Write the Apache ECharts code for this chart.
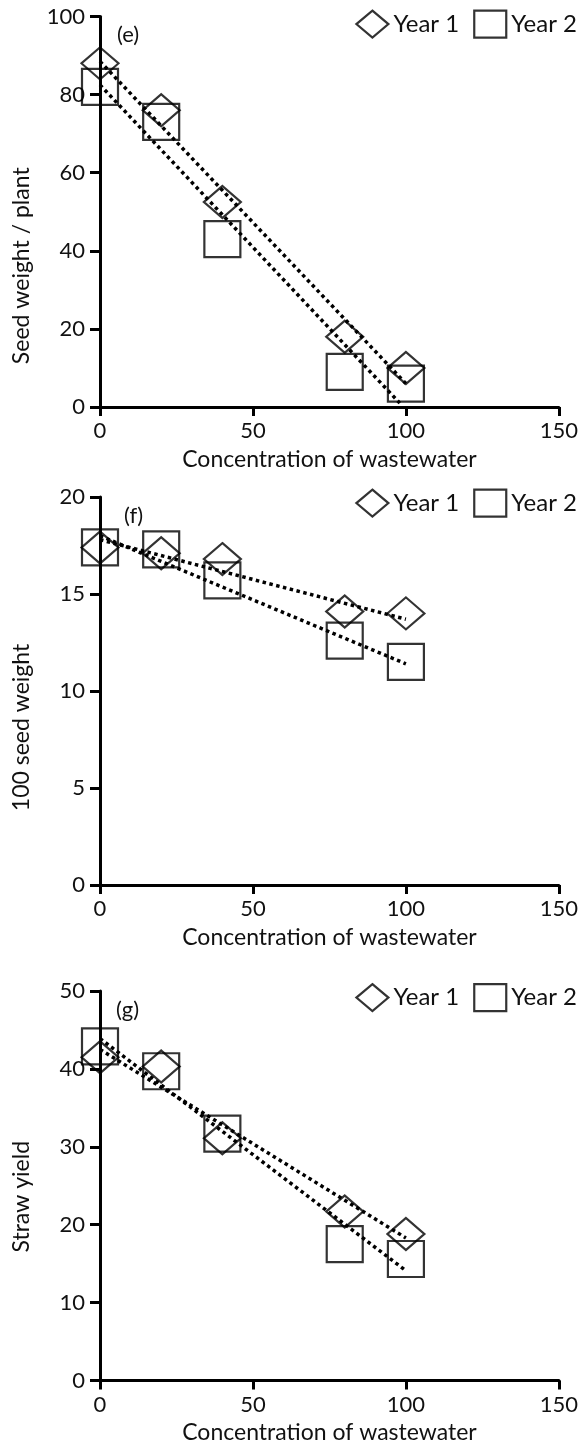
<!DOCTYPE html>
<html>
<head>
<meta charset="utf-8">
<script src="https://cdn.jsdelivr.net/npm/echarts@6/dist/echarts.min.js"></script>
<style>
  html, body { margin: 0; padding: 0; background: #fff; }
  #chart { width: 581px; height: 1450px; }
</style>
</head>
<body>
<div id="chart"></div>
<script>
// ---- data ----
const concentration = [0, 20, 40, 80, 100];

const seedWeightYear1 = [88, 76, 52.5, 18, 10];
const seedWeightYear2 = [82, 73, 43, 9, 6];
const seedWeightTrend1 = [[0, 88.5], [100, 6]];
const seedWeightTrend2 = [[0, 82.5], [98, 1]];

const hundredSeedYear1 = [17.4, 17.1, 16.8, 14.1, 14.0];
const hundredSeedYear2 = [17.4, 17.3, 15.7, 12.6, 11.5];
const hundredSeedTrend1 = [[0, 17.8], [100, 13.7]];
const hundredSeedTrend2 = [[0, 18.0], [100, 11.4]];

const strawYear1 = [41.5, 40.3, 31.1, 21.7, 18.8];
const strawYear2 = [42.9, 39.7, 31.7, 17.5, 15.6];
const strawTrend1 = [[0, 42.5], [100, 18.3]];
const strawTrend2 = [[0, 43.9], [100, 14.1]];

const xTicks = [0, 50, 100, 150];
const panelLetters = ['(e)', '(f)', '(g)'];
const yNames = ['Seed weight / plant', '100 seed weight', 'Straw yield'];
const xName = 'Concentration of wastewater';
const yMax = [100, 20, 50];
const yInterval = [20, 5, 10];
const legendNames = ['Year 1', 'Year 2'];

// ---- layout ----
const FONT = 'Lato, "Noto Sans", sans-serif';
const TXT = '#111';
const grids = [
  { left: 100, width: 462, top: 16.5, height: 390.5 },
  { left: 100, width: 462, top: 497, height: 388 },
  { left: 100, width: 462, top: 991, height: 389.5 }
];
const yNameShift = [108, 73, 22];
const legendTops = [9.5, 488.5, 983];
const letterPos = [[117, 24], [124, 505], [116, 999]];

function pts(ys) { return concentration.map((x, i) => [x, ys[i]]); }

const panels = [
  [seedWeightYear1, seedWeightYear2, seedWeightTrend1, seedWeightTrend2],
  [hundredSeedYear1, hundredSeedYear2, hundredSeedTrend1, hundredSeedTrend2],
  [strawYear1, strawYear2, strawTrend1, strawTrend2]
];

const xAxis = [], yAxis = [], series = [], legend = [], title = [];
panels.forEach((p, i) => {
  xAxis.push({
    gridIndex: i, type: 'value', min: 0, max: 150, interval: 50,
    name: xName, nameLocation: 'middle', nameGap: 41,
    nameTextStyle: { fontFamily: FONT, fontSize: 23, color: TXT },
    axisLine: { show: true, onZero: false, lineStyle: { color: '#000', width: 3 } },
    axisTick: { show: true, length: 9, lineStyle: { color: '#000', width: 3 } },
    axisLabel: { margin: 13, fontFamily: FONT, fontSize: 22, color: TXT },
    splitLine: { show: false }
  });
  yAxis.push({
    gridIndex: i, type: 'value', min: 0, max: yMax[i], interval: yInterval[i],
    name: yNames[i], nameLocation: 'middle', nameGap: 67,
    nameTextStyle: { fontFamily: FONT, fontSize: 23, color: TXT, padding: [0, yNameShift[i], 0, 0] },
    axisLine: { show: true, onZero: false, lineStyle: { color: '#000', width: 3 } },
    axisTick: { show: true, length: 10, lineStyle: { color: '#000', width: 3 } },
    axisLabel: { margin: 15, fontFamily: FONT, fontSize: 22, color: TXT },
    splitLine: { show: false }
  });
  const trendStyle = { color: '#000', width: 3.5, type: [3.5, 3.5], cap: 'butt' };
  series.push({
    type: 'line', xAxisIndex: i, yAxisIndex: i, data: p[2], symbol: 'none',
    lineStyle: trendStyle, silent: true, z: 3
  });
  series.push({
    type: 'line', xAxisIndex: i, yAxisIndex: i, data: p[3], symbol: 'none',
    lineStyle: trendStyle, silent: true, z: 3
  });
  series.push({
    name: legendNames[0], type: 'scatter', xAxisIndex: i, yAxisIndex: i,
    data: pts(p[0]), symbol: 'diamond', symbolSize: [37, 32],
    itemStyle: { color: 'rgba(0,0,0,0)', borderColor: '#000', borderWidth: 2.2 }, z: 4
  });
  series.push({
    name: legendNames[1], type: 'scatter', xAxisIndex: i, yAxisIndex: i,
    data: pts(p[1]), symbol: 'rect', symbolSize: [36, 36],
    itemStyle: { color: 'rgba(0,0,0,0)', borderColor: '#000', borderWidth: 2.2 }, z: 4
  });
  legend.push({
    right: 4, top: legendTops[i], padding: 0, itemGap: 14,
    itemWidth: 32, itemHeight: 27, selectedMode: false,
    data: [{ name: legendNames[0], icon: 'diamond' }, { name: legendNames[1], icon: 'rect' }],
    itemStyle: { color: 'rgba(0,0,0,0)', borderColor: '#000', borderWidth: 2.2 },
    textStyle: { fontFamily: FONT, fontSize: 24, color: TXT }
  });
  title.push({
    text: panelLetters[i], left: letterPos[i][0], top: letterPos[i][1], padding: 0,
    textStyle: { fontFamily: FONT, fontSize: 22, fontWeight: 'normal', color: TXT }
  });
});

const chart = echarts.init(document.getElementById('chart'), null, { renderer: 'canvas' });
chart.setOption({
  animation: false,
  backgroundColor: '#fff',
  grid: grids,
  xAxis, yAxis, series, legend, title
});
</script>
</body>
</html>
